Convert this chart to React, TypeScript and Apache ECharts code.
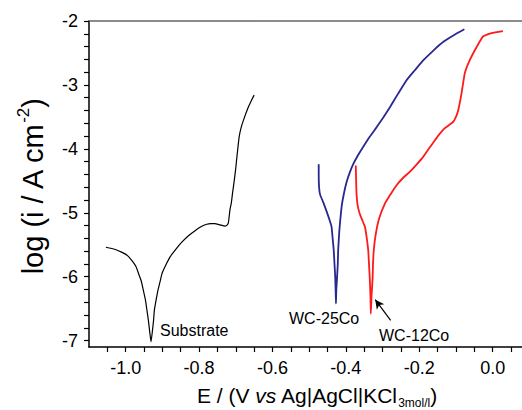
import React, { useEffect, useRef } from "react";
import * as echarts from "echarts";

const xLabelValues = [-1.0, -0.8, -0.6, -0.4, -0.2, 0.0];
const xTickValues = [-1.05, -1.0, -0.95, -0.9, -0.85, -0.8, -0.75, -0.7, -0.65, -0.6, -0.55, -0.5, -0.45, -0.4, -0.35, -0.3, -0.25, -0.2, -0.15, -0.1, -0.05, 0.0, 0.05];
const yLabelValues = [-7, -6, -5, -4, -3, -2];
const yTickValues = [-7.0, -6.8, -6.6, -6.4, -6.2, -6.0, -5.8, -5.6, -5.4, -5.2, -5.0, -4.8, -4.6, -4.4, -4.2, -4.0, -3.8, -3.6, -3.4, -3.2, -3.0, -2.8, -2.6, -2.4, -2.2, -2.0];

const substrate = [
  [-1.054, -5.54], [-1.03, -5.57], [-1.01, -5.62], [-0.995, -5.67], [-0.983, -5.75], [-0.972, -5.84],
  [-0.965, -5.95], [-0.958, -6.06], [-0.952, -6.21], [-0.946, -6.37], [-0.942, -6.53], [-0.938, -6.69],
  [-0.935, -6.84], [-0.931, -7.02], [-0.927, -6.84], [-0.924, -6.68], [-0.922, -6.53], [-0.917, -6.36],
  [-0.912, -6.21], [-0.906, -6.07], [-0.901, -5.95], [-0.89, -5.81], [-0.879, -5.69], [-0.862, -5.56],
  [-0.847, -5.46], [-0.829, -5.36], [-0.811, -5.28], [-0.795, -5.22], [-0.779, -5.18], [-0.768, -5.17],
  [-0.757, -5.17], [-0.743, -5.19], [-0.729, -5.21], [-0.723, -5.19], [-0.72, -5.15], [-0.716, -4.96],
  [-0.712, -4.84], [-0.709, -4.7], [-0.704, -4.49], [-0.7, -4.3], [-0.697, -4.13], [-0.691, -3.82],
  [-0.686, -3.68], [-0.679, -3.55], [-0.666, -3.35], [-0.658, -3.25], [-0.65, -3.16],
];

const wc25co = [
  [-0.474, -4.24], [-0.474, -4.4], [-0.473, -4.6], [-0.47, -4.72], [-0.462, -4.83], [-0.453, -4.97],
  [-0.444, -5.12], [-0.439, -5.22], [-0.436, -5.4], [-0.433, -5.59], [-0.431, -5.8], [-0.429, -6.01],
  [-0.428, -6.2], [-0.427, -6.42], [-0.426, -6.2], [-0.424, -6.01], [-0.422, -5.8], [-0.421, -5.59],
  [-0.418, -5.3], [-0.415, -5.1], [-0.411, -4.88], [-0.405, -4.69], [-0.398, -4.52], [-0.39, -4.38],
  [-0.38, -4.24], [-0.367, -4.1], [-0.353, -3.97], [-0.335, -3.81], [-0.316, -3.66], [-0.298, -3.51],
  [-0.28, -3.35], [-0.258, -3.14], [-0.235, -2.93], [-0.212, -2.77], [-0.19, -2.62], [-0.163, -2.47],
  [-0.135, -2.33], [-0.105, -2.22], [-0.077, -2.13],
];

const wc12co = [
  [-0.373, -4.26], [-0.372, -4.5], [-0.371, -4.7], [-0.368, -4.88], [-0.362, -5.02], [-0.355, -5.12],
  [-0.348, -5.22], [-0.343, -5.4], [-0.339, -5.59], [-0.337, -5.8], [-0.335, -6.01], [-0.333, -6.3], [-0.332, -6.58],
  [-0.33, -6.3], [-0.327, -6.01], [-0.326, -5.8], [-0.324, -5.59], [-0.319, -5.35], [-0.31, -5.1],
  [-0.294, -4.86], [-0.278, -4.71], [-0.262, -4.57], [-0.245, -4.46], [-0.226, -4.36], [-0.208, -4.25],
  [-0.19, -4.13], [-0.174, -4.0], [-0.158, -3.87], [-0.145, -3.77], [-0.131, -3.68], [-0.108, -3.58],
  [-0.1, -3.5], [-0.094, -3.4], [-0.085, -3.14], [-0.076, -2.82], [-0.063, -2.62], [-0.044, -2.41],
  [-0.026, -2.24], [-0.014, -2.21], [-0.003, -2.19], [0.028, -2.16],
];

const arrowFrom = [-0.278, -6.684];
const arrowTo = [-0.32, -6.36];

const FONT = "'Liberation Sans', Arial, sans-serif";

export default function App() {
  const ref = useRef<HTMLDivElement>(null);
  useEffect(() => {
    if (!ref.current) return;
    const chart = echarts.init(ref.current, null, { renderer: "svg" });
    const fmtX = (v: number) => {
      const r = Math.round(v * 10) / 10;
      return r === 0 ? "0.0" : r.toFixed(1);
    };
    chart.setOption({
      animation: false,
      backgroundColor: "#fff",
      textStyle: { fontFamily: FONT },
      grid: { left: 89, top: 21, right: 0, bottom: 63, containLabel: false },
      xAxis: [
        {
          type: "value",
          min: -1.1,
          max: 0.08,
          position: "bottom",
          axisLine: { show: true, onZero: false, lineStyle: { color: "#000", width: 1.5 } },
          axisTick: { show: true, inside: false, length: 5, customValues: xTickValues, lineStyle: { color: "#000", width: 1.2 } },
          axisLabel: { show: true, customValues: xLabelValues, formatter: fmtX, fontSize: 18, color: "#000", margin: 12, fontFamily: FONT },
          splitLine: { show: false },
        },
        {
          type: "value",
          min: -1.1,
          max: 0.08,
          position: "top",
          axisLine: { show: true, onZero: false, lineStyle: { color: "#666", width: 1.5 } },
          axisTick: { show: false },
          axisLabel: { show: false },
          splitLine: { show: false },
        },
      ],
      yAxis: {
        type: "value",
        min: -7.1,
        max: -2,
        axisLine: { show: true, onZero: false, lineStyle: { color: "#000", width: 1.5 } },
        axisTick: { show: true, inside: false, length: 5, customValues: yTickValues, lineStyle: { color: "#000", width: 1.2 } },
        axisLabel: { show: true, customValues: yLabelValues, formatter: (v: number) => String(Math.round(v)), fontSize: 18, color: "#000", margin: 11, fontFamily: FONT },
        splitLine: { show: false },
      },
      series: [
        {
          name: "Substrate",
          type: "line",
          data: substrate,
          showSymbol: false,
          smooth: 0.15,
          lineStyle: { color: "#000", width: 1.2 },
        },
        {
          name: "WC-25Co",
          type: "line",
          data: wc25co,
          showSymbol: false,
          smooth: 0.15,
          lineStyle: { color: "#28288f", width: 1.8 },
        },
        {
          name: "WC-12Co",
          type: "line",
          data: wc12co,
          showSymbol: false,
          smooth: 0.15,
          lineStyle: { color: "#ff1a1a", width: 1.8 },
          markLine: {
            silent: true,
            symbol: ["none", "arrow"],
            symbolSize: [7, 9],
            label: { show: false },
            lineStyle: { color: "#000", width: 1.2, type: "solid" },
            data: [[{ coord: arrowFrom }, { coord: arrowTo }]],
          },
        },
      ],
      graphic: [
        {
          type: "text",
          x: 160,
          y: 330,
          style: { text: "Substrate", fontSize: 16, fontFamily: FONT, fill: "#000", verticalAlign: "middle", align: "left" },
        },
        {
          type: "text",
          x: 289,
          y: 318,
          style: { text: "WC-25Co", fontSize: 16, fontFamily: FONT, fill: "#000", verticalAlign: "middle", align: "left" },
        },
        {
          type: "text",
          x: 379,
          y: 335,
          style: { text: "WC-12Co", fontSize: 16, fontFamily: FONT, fill: "#000", verticalAlign: "middle", align: "left" },
        },
        {
          type: "text",
          x: 197,
          y: 395,
          style: {
            text: "{a|E / (V }{i|vs}{a| Ag|AgCl|KCl}{s|3mol/l}{a|)}",
            fontFamily: FONT,
            verticalAlign: "middle",
            align: "left",
            fill: "#000",
            rich: {
              a: { fontSize: 21, fontFamily: FONT, fill: "#000", lineHeight: 32, verticalAlign: "middle" },
              i: { fontSize: 21, fontFamily: FONT, fontStyle: "italic", fill: "#000", lineHeight: 32, verticalAlign: "middle" },
              s: { fontSize: 12, fontFamily: FONT, fill: "#000", lineHeight: 12, verticalAlign: "bottom", padding: [0, 0, 2, 0] },
            },
          },
        },
        {
          type: "text",
          x: 33,
          y: 187,
          rotation: Math.PI / 2,
          style: {
            text: "{a|log (i / A cm}{p|-2}{a|)}",
            fontFamily: FONT,
            verticalAlign: "middle",
            align: "center",
            fill: "#000",
            rich: {
              a: { fontSize: 29, fontFamily: FONT, fill: "#000", lineHeight: 40, verticalAlign: "middle" },
              p: { fontSize: 17, fontFamily: FONT, fill: "#000", lineHeight: 17, verticalAlign: "top", padding: [2, 0, 0, 0] },
            },
          },
        },
      ],
    });
    return () => chart.dispose();
  }, []);
  return <div ref={ref} style={{ position: "absolute", left: 0, top: 0, width: 522, height: 410 }} />;
}
